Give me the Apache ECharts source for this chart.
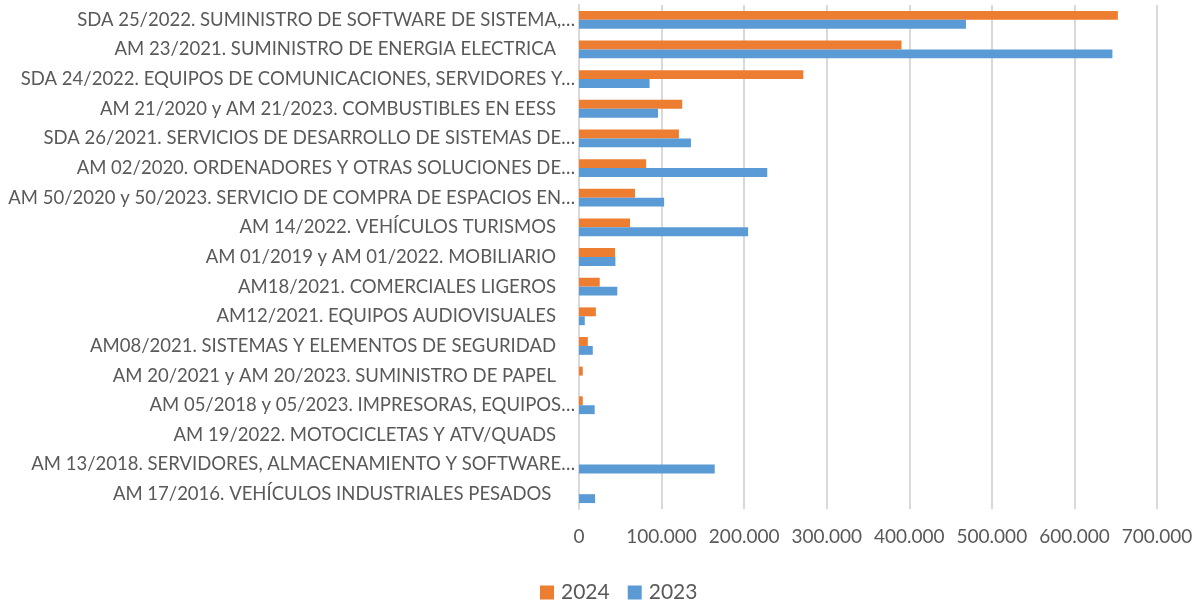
<!DOCTYPE html>
<html>
<head>
<meta charset="utf-8">
<script src="https://cdn.jsdelivr.net/npm/echarts@6/dist/echarts.min.js"></script>
<style>
  html, body { margin: 0; padding: 0; background: #fff; }
  #main { width: 1203px; height: 601px; }
</style>
</head>
<body>
<div id="main"></div>
<script>
var categories = [
  'SDA 25/2022. SUMINISTRO DE SOFTWARE DE SISTEMA,…',
  'AM 23/2021. SUMINISTRO DE ENERGIA ELECTRICA    ',
  'SDA 24/2022. EQUIPOS DE COMUNICACIONES, SERVIDORES Y…',
  'AM 21/2020 y AM 21/2023. COMBUSTIBLES EN EESS    ',
  'SDA 26/2021. SERVICIOS DE DESARROLLO DE SISTEMAS DE…',
  'AM 02/2020. ORDENADORES Y OTRAS SOLUCIONES DE…',
  'AM 50/2020 y 50/2023. SERVICIO DE COMPRA DE ESPACIOS EN…',
  'AM 14/2022. VEHÍCULOS TURISMOS    ',
  'AM 01/2019 y AM 01/2022. MOBILIARIO    ',
  'AM18/2021. COMERCIALES LIGEROS    ',
  'AM12/2021. EQUIPOS AUDIOVISUALES    ',
  'AM08/2021. SISTEMAS Y ELEMENTOS DE SEGURIDAD    ',
  'AM 20/2021 y AM 20/2023. SUMINISTRO DE PAPEL    ',
  'AM 05/2018 y 05/2023. IMPRESORAS, EQUIPOS…',
  'AM 19/2022. MOTOCICLETAS Y ATV/QUADS    ',
  'AM 13/2018. SERVIDORES, ALMACENAMIENTO Y SOFTWARE…',
  'AM 17/2016. VEHÍCULOS INDUSTRIALES PESADOS     '
];

var values2024 = [652600, 390600, 271700, 125000, 121000, 81300, 67800, 61800, 43700, 25100, 20400, 10700, 4600, 4600, 0, 0, 0];
var values2023 = [468600, 646000, 85500, 95700, 135600, 228000, 103100, 204800, 44100, 46400, 7000, 16700, 0, 19000, 0, 164400, 19500];

var seriesNames = ['2024', '2023'];

var myChart = echarts.init(document.getElementById('main'));

function fmt(v) {
  return String(v).replace(/\B(?=(\d{3})+(?!\d))/g, '.');
}

var option = {
  backgroundColor: '#fff',
  textStyle: { fontFamily: 'Lato' },
  grid: {
    left: 579,
    right: 46,
    top: 5,
    bottom: 92
  },
  legend: {
    data: seriesNames,
    top: 577,
    left: 535,
    itemWidth: 14,
    itemHeight: 14,
    itemGap: 18,
    icon: 'rect',
    textStyle: { fontSize: 21, color: '#595959', fontFamily: 'Lato', padding: [0, 0, 0, 2] }
  },
  xAxis: {
    type: 'value',
    min: 0,
    max: 700000,
    interval: 100000,
    axisLine: { show: false },
    axisTick: { show: false },
    splitLine: { lineStyle: { color: '#d9d9d9', width: 2 } },
    axisLabel: {
      margin: 18,
      fontSize: 19,
      color: '#595959',
      fontFamily: 'Lato',
      formatter: fmt
    }
  },
  yAxis: {
    type: 'category',
    inverse: true,
    data: categories,
    axisLine: { lineStyle: { color: '#d9d9d9', width: 2 } },
    axisTick: { show: false },
    axisLabel: {
      margin: 4,
      fontSize: 18.5,
      color: '#595959',
      fontFamily: 'Lato'
    }
  },
  series: [
    {
      name: '2024',
      type: 'bar',
      data: values2024,
      itemStyle: { color: '#ED7D31' },
      barGap: '0%',
      barCategoryGap: '40%'
    },
    {
      name: '2023',
      type: 'bar',
      data: values2023,
      itemStyle: { color: '#5B9BD5' },
      barGap: '0%',
      barCategoryGap: '40%'
    }
  ]
};

myChart.setOption(option);
</script>
</body>
</html>
